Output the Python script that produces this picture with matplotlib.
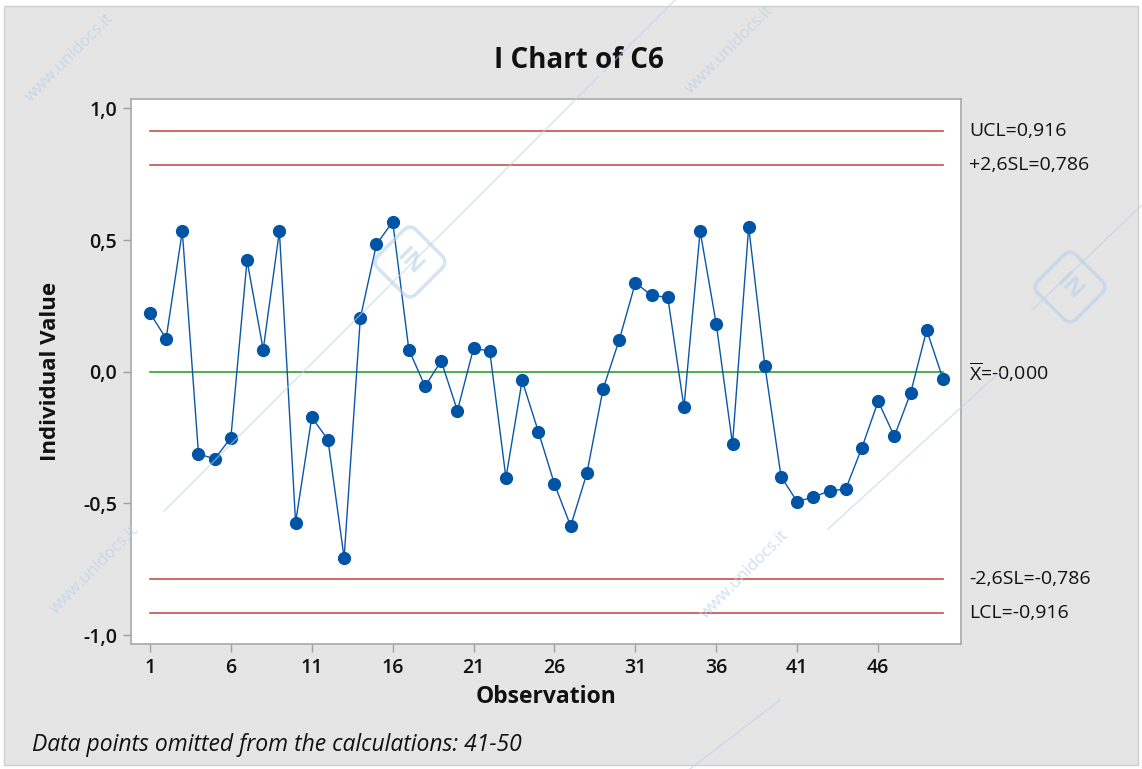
import matplotlib
matplotlib.use("Agg")
import matplotlib.pyplot as plt
from matplotlib.patches import Rectangle, FancyBboxPatch
from matplotlib.lines import Line2D
import matplotlib.transforms as mtransforms

plt.rcParams['font.family'] = ['Open Sans', 'DejaVu Sans']
plt.rcParams['mathtext.fontset'] = 'custom'
plt.rcParams['mathtext.rm'] = 'Open Sans'

# Individual observations (column C6)
observations = list(range(1, 51))
values = [0.223, 0.126, 0.534, -0.312, -0.331, -0.251, 0.423, 0.084, 0.534, -0.573,
          -0.173, -0.258, -0.707, 0.204, 0.484, 0.570, 0.084, -0.055, 0.041, -0.148,
          0.090, 0.078, -0.403, -0.033, -0.227, -0.427, -0.586, -0.386, -0.066, 0.121,
          0.338, 0.290, 0.283, -0.135, 0.534, 0.180, -0.275, 0.551, 0.023, -0.398,
          -0.494, -0.475, -0.453, -0.445, -0.288, -0.112, -0.245, -0.082, 0.158, -0.026]

# Control limits
center = 0.0
ucl, lcl = 0.916, -0.916
usl, lsl = 0.786, -0.786
limit_labels = ["UCL=0,916", "+2,6SL=0,786", r"$\overline{\mathrm{X}}$=-0,000",
                "-2,6SL=-0,786", "LCL=-0,916"]

x_ticks = [1, 6, 11, 16, 21, 26, 31, 36, 41, 46]
y_ticks = [-1.0, -0.5, 0.0, 0.5, 1.0]
y_tick_labels = ["-1,0", "-0,5", "0,0", "0,5", "1,0"]

W, H = 1142, 769
fig = plt.figure(figsize=(W / 100, H / 100), dpi=100)
fig.patch.set_facecolor("white")


def fx(px):
    return px / W


def fy(py):
    return 1 - py / H


# grey panel behind the chart
fig.patches.append(Rectangle((4 / W, 4 / H), (W - 8) / W, (H - 10) / H,
                             transform=fig.transFigure, facecolor="#e5e5e5",
                             edgecolor="#d0d0d0", lw=1, zorder=0))

ax = fig.add_axes([131 / W, (H - 644) / H, (961 - 131) / W, (644 - 99) / H])
ax.set_zorder(2)
ax.set_facecolor("white")
ax.set_xlim(-0.17, 51.12)
ax.set_ylim(-1.034, 1.036)

red = "#c25252"
xs = [observations[0], observations[-1]]
for lvl in (ucl, usl, lsl, lcl):
    ax.plot(xs, [lvl, lvl], color=red, lw=1.2, zorder=2)
ax.plot(xs, [center, center], color="#1a9a1a", lw=1.1, zorder=2)

ax.plot(observations, values, color="#0b56a8", lw=1.0, marker="o",
        markersize=8.5, markerfacecolor="#0054a6", markeredgecolor="#0054a6", zorder=3)

ax.set_xticks(x_ticks)
ax.set_xticklabels([str(t) for t in x_ticks])
ax.set_yticks(y_ticks)
ax.set_yticklabels(y_tick_labels)
ax.tick_params(axis="both", direction="out", length=6, width=1, color="#a0a0a0",
               labelsize=14, labelcolor="#111111", pad=4)
for lab in ax.get_xticklabels() + ax.get_yticklabels():
    lab.set_fontweight("semibold")
for sp in ax.spines.values():
    sp.set_color("#a8a8a8")
    sp.set_linewidth(1.2)

# limit annotations to the right of the plot
for lvl, txt in zip([ucl, usl, center, lsl, lcl], limit_labels):
    ax.annotate(txt, xy=(1.0, lvl), xycoords=("axes fraction", "data"),
                xytext=(8, 0), textcoords="offset pixels", ha="left", va="center",
                fontsize=14, color="#111111", annotation_clip=False)

fig.text(fx(579), fy(60), "I Chart of C6", ha="center", va="center",
         fontsize=20, fontweight="bold", color="#111111")
ax.set_xlabel("Observation", fontsize=16.5, fontweight="bold", color="#111111")
ax.set_ylabel("Individual Value", fontsize=16, fontweight="bold", color="#111111")
ax.xaxis.set_label_coords(0.5, (644 - 697) / 545, transform=ax.transAxes)
ax.xaxis.label.set_va("center")
ax.yaxis.set_label_coords((51 - 131) / 830, 0.5, transform=ax.transAxes)
ax.yaxis.label.set_va("center")
fig.text(fx(32), fy(745), "Data points omitted from the calculations: 41-50",
         ha="left", va="center", fontsize=16.5, style="italic", color="#111111")

# faint watermark (lines, text, logos) laid over everything
wm = "#b9d2ea"
for (x0, y0, x1, y1) in [(164, 511, 598, 77), (603, 72, 690, -15),
                         (828, 529, 1000, 372), (1032, 310, 1142, 205),
                         (690, 769, 780, 700)]:
    fig.add_artist(Line2D([fx(x0), fx(x1)], [fy(y0), fy(y1)], color=wm, lw=1.0,
                          alpha=0.6, transform=fig.transFigure, zorder=5))
for (px, py) in [(95, 570), (745, 575), (70, 58), (730, 50)]:
    fig.text(fx(px), fy(py), "www.unidocs.it", rotation=45, color=wm, alpha=0.7,
             fontsize=12, ha="center", va="center", zorder=5)
for (px, py) in [(410, 262), (1070, 287)]:
    s = 27
    rot = mtransforms.Affine2D().rotate_deg_around(px, H - py, 45)
    box = FancyBboxPatch((px - s, H - py - s), 2 * s, 2 * s,
                         boxstyle="round,pad=0,rounding_size=9",
                         transform=rot, facecolor="none",
                         edgecolor=wm, lw=2.5, alpha=0.6, zorder=5)
    fig.add_artist(box)
    fig.text(fx(px), fy(py), "IN", rotation=-45, color=wm, alpha=0.6, fontsize=17,
             fontweight="bold", ha="center", va="center", zorder=5)

fig.savefig("out.png", dpi=100, facecolor=fig.get_facecolor())
